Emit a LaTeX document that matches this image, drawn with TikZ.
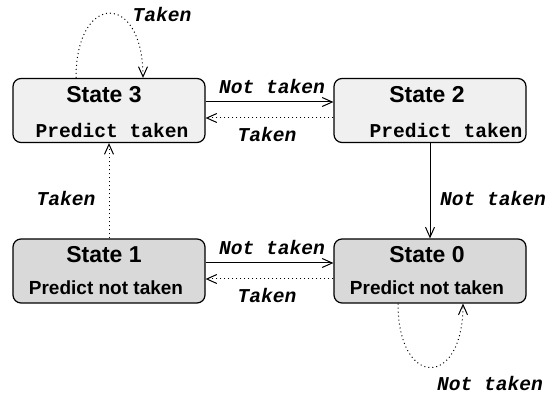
\documentclass[tikz,border=0pt]{standalone}
\usepackage{fontspec}
\setmainfont{Liberation Sans}
\newfontfamily\codefont{Liberation Mono}
\usetikzlibrary{arrows.meta}

\begin{document}
\begin{tikzpicture}[x=0.5pt,y=-0.5pt,
    state/.style={draw, rounded corners=4pt, line width=0.6pt,
      minimum width=96pt, minimum height=32pt, inner sep=0pt},
    weak/.style={state, fill=black!6},
    strong/.style={state, fill=black!15},
    title/.style={anchor=base, inner sep=0pt, font=\fontsize{11.5}{12}\selectfont\bfseries},
    predsans/.style={anchor=base, inner sep=0pt, font=\fontsize{9.5}{11}\selectfont\bfseries},
    predmono/.style={anchor=base, inner sep=0pt, font=\fontsize{9.8}{11}\selectfont\codefont\bfseries},
    lbl/.style={anchor=base, inner sep=0pt, font=\fontsize{9.8}{11}\selectfont\codefont\bfseries\itshape},
    arr/.style={line width=0.5pt, -{Straight Barb[length=5pt,width=4.5pt]}},
    dotarr/.style={arr, dash pattern=on 0.5pt off 1.5pt}]
  \useasboundingbox (0,0) rectangle (550,394);

  % the four predictor states
  \node[weak]   (s3) at (109,110.5) {};
  \node[weak]   (s2) at (430,110.5) {};
  \node[strong] (s1) at (109,271) {};
  \node[strong] (s0) at (430,271) {};

  \node[title]    (s3t) at (104,103) {State 3};
  \node[predmono] (s3p) at (112,138) {Predict taken};
  \node[title]    (s2t) at (427,103) {State 2};
  \node[predmono] (s2p) at (446,138) {Predict taken};
  \node[title]    (s1t) at (104,263) {State 1};
  \node[predsans] (s1p) at (106,295) {Predict not taken};
  \node[title]    (s0t) at (427,263) {State 0};
  \node[predsans] (s0p) at (427,295) {Predict not taken};

  % Not taken (solid)
  \draw[arr] ([yshift=4.25pt]s3.east) -- ([yshift=4.25pt]s2.west);
  \draw[arr] (s2.south) -- (s0.north);
  \draw[arr] ([yshift=4pt]s1.east) -- ([yshift=4pt]s0.west);
  \draw[dotarr] ([xshift=-16pt]s0.south) .. controls +(0,-42.5pt) and +(0,-42.5pt) .. ([xshift=16.5pt]s0.south);

  % Taken (dotted)
  \draw[dotarr] ([yshift=-3.75pt]s2.west) -- ([yshift=-3.75pt]s3.east);
  \draw[dotarr] ([yshift=-4pt]s0.west) -- ([yshift=-4pt]s1.east);
  \draw[dotarr] (s1.north) -- (s3.south);
  \draw[dotarr] ([xshift=-16.5pt]s3.north) .. controls +(0,43pt) and +(0,43pt) .. ([xshift=17pt]s3.north);

  % labels
  \node[lbl] (l33) at (162,22) {Taken};
  \node[lbl] (l32) at (272,94) {Not taken};
  \node[lbl] (l23) at (267,142) {Taken};
  \node[lbl] (l13) at (66,206) {Taken};
  \node[lbl] (l20) at (493,206) {Not taken};
  \node[lbl] (l10) at (272,255) {Not taken};
  \node[lbl] (l01) at (267,303) {Taken};
  \node[lbl] (l00) at (490,390) {Not taken};
\end{tikzpicture}
\end{document}
